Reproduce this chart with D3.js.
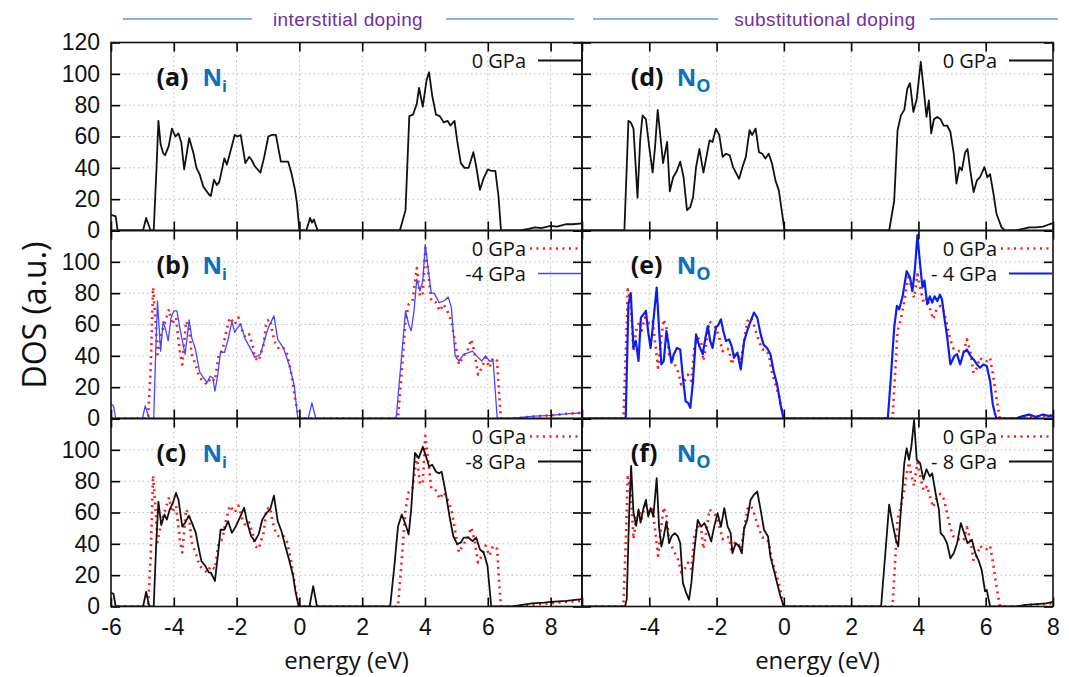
<!DOCTYPE html>
<html lang="en">
<head>
    <meta charset="UTF-8">
    <title>DOS under pressure</title>
    <script src="https://d3js.org/d3.v7.min.js"></script>
    <style>
        body { margin: 0; background: #fff; }
        svg { display: block; font-family: "Open Sans", "DejaVu Sans", sans-serif; }
        .tick line { stroke: #000; stroke-width: 1.6px; }
        .tick text { font-size: 23px; fill: #111; }
        .grid { stroke: #bdbdbd; stroke-width: 1; stroke-dasharray: 1.5,3; }
        .frame { fill: none; stroke: #111; stroke-width: 1.6px; }
        .legend text { font-size: 20px; fill: #111; }
    </style>
</head>
<body>
<script>
// energy (eV), DOS (a.u.) pairs
var dosIntA = [[-6,10],[-5.85,9],[-5.79,0],[-4.98,0],[-4.88,8],[-4.74,0],[-4.64,0],[-4.55,40],[-4.49,70],[-4.42,55],[-4.34,49.5],[-4.28,48],[-4.16,54],[-4.06,65],[-3.95,60],[-3.85,62],[-3.76,56],[-3.67,39],[-3.51,59],[-3.37,49],[-3.28,40],[-3.18,36],[-3.06,28],[-2.88,23],[-2.82,22],[-2.72,32.5],[-2.63,29],[-2.55,31],[-2.39,46],[-2.31,42],[-2.21,49.5],[-2.06,61],[-1.97,60],[-1.87,61],[-1.72,43],[-1.6,47],[-1.52,45],[-1.42,41],[-1.24,37],[-1.12,47],[-0.99,60],[-0.87,61],[-0.75,61],[-0.59,44],[-0.45,44],[-0.36,44],[-0.26,37],[-0.14,26],[-0.08,18],[0,0],[0.22,0],[0.34,8],[0.4,5],[0.46,7],[0.58,0],[3.2,0],[3.38,13],[3.5,73],[3.62,74],[3.74,81],[3.81,91],[3.93,79],[4.05,96],[4.13,101],[4.23,86],[4.35,74],[4.47,73],[4.6,69],[4.72,70],[4.81,67],[4.94,70],[5.02,58],[5.14,43],[5.26,40],[5.39,40],[5.54,50],[5.63,41],[5.75,26],[5.87,33.5],[6.0,39],[6.12,38],[6.24,38],[6.34,22],[6.42,0],[7.03,0],[7.3,1],[7.5,2],[7.7,1.5],[8.0,3],[8.2,2.5],[8.5,4],[8.7,4],[9,4.5]];

var dosInt0 = [[-6,0],[-4.82,0],[-4.74,30],[-4.66,83.6],[-4.58,62],[-4.52,41],[-4.4,53.7],[-4.27,62],[-4.15,69.7],[-4.06,60],[-3.93,64.4],[-3.81,43],[-3.73,34.5],[-3.61,62],[-3.52,58],[-3.43,41],[-3.31,34.5],[-3.18,26],[-3.06,23.9],[-2.94,21.7],[-2.82,26],[-2.69,23.9],[-2.57,41],[-2.45,43],[-2.33,56],[-2.21,64.4],[-2.06,60],[-1.94,64.4],[-1.82,56],[-1.72,51.6],[-1.6,53.7],[-1.48,46],[-1.42,38.8],[-1.3,36.7],[-1.14,47],[-1.05,62],[-0.93,63.3],[-0.85,53.7],[-0.75,47],[-0.63,44],[-0.51,45],[-0.39,41],[-0.27,30],[-0.14,13],[-0.02,0],[3.14,0],[3.26,30],[3.38,62],[3.48,73],[3.6,75],[3.74,96],[3.84,78],[3.93,79],[4.01,109],[4.11,92],[4.2,75],[4.35,74],[4.47,68.7],[4.59,73],[4.71,68.7],[4.84,62],[4.96,48.4],[5.08,34.5],[5.23,40],[5.35,43],[5.47,50.5],[5.57,43],[5.69,28],[5.81,32.4],[5.93,38.8],[6.05,32.4],[6.17,38.8],[6.3,36.7],[6.36,15],[6.42,0],[6.9,0],[7.3,1],[7.6,1.5],[8.0,2],[8.5,3],[9,3.6]];

var dosIntM4 = [[-6,9.4],[-5.92,8],[-5.85,0],[-5.0,0],[-4.91,8],[-4.78,0],[-4.64,0],[-4.58,40],[-4.52,75],[-4.42,43],[-4.34,62],[-4.25,56],[-4.18,49.5],[-4.09,64],[-4.0,68.7],[-3.9,68.7],[-3.79,56],[-3.64,41],[-3.51,63],[-3.43,51.6],[-3.31,44],[-3.18,30],[-3.06,26],[-2.94,23],[-2.84,27],[-2.76,26],[-2.69,17.5],[-2.6,28],[-2.51,43],[-2.39,42],[-2.27,50.5],[-2.15,62],[-2.06,55],[-1.97,58],[-1.87,60],[-1.72,50.5],[-1.54,44],[-1.42,39],[-1.24,41],[-1.12,49.5],[-0.99,58],[-0.81,65.5],[-0.69,50.5],[-0.51,45],[-0.33,34.5],[-0.17,21.7],[-0.05,0],[0.28,0],[0.4,10],[0.52,0],[3.08,0],[3.26,41],[3.38,68.7],[3.48,60],[3.56,56],[3.65,68.7],[3.74,89],[3.84,81.4],[3.93,88],[4.01,111],[4.11,94],[4.2,80],[4.29,80],[4.45,74],[4.6,75],[4.74,77.6],[4.84,70.8],[4.96,40],[5.08,36.7],[5.23,41],[5.39,42],[5.51,43],[5.69,39],[5.81,36.7],[5.93,40],[6.05,36.7],[6.17,36.7],[6.3,0],[6.78,0],[7.2,1],[7.5,1.5],[8.0,2],[8.5,3],[9,3.6]];

var dosIntM8 = [[-6,9],[-5.92,8],[-5.85,0],[-4.98,0],[-4.88,9.3],[-4.78,0],[-4.64,0],[-4.56,40],[-4.49,67],[-4.4,52],[-4.3,58.7],[-4.22,55.5],[-4.13,62],[-4.03,66],[-3.93,72.5],[-3.85,68],[-3.73,51],[-3.64,53.4],[-3.52,58],[-3.42,53.4],[-3.3,47],[-3.21,37.5],[-3.12,29],[-3.0,26],[-2.88,21.6],[-2.82,21.6],[-2.69,16.3],[-2.6,32],[-2.51,49],[-2.39,49],[-2.27,54.4],[-2.15,47],[-2.03,51],[-1.9,56.6],[-1.76,63],[-1.66,53.4],[-1.54,45],[-1.42,41.7],[-1.3,46],[-1.18,55.5],[-1.05,59.7],[-0.93,62],[-0.81,70.8],[-0.69,54.4],[-0.57,48],[-0.45,38.6],[-0.33,30],[-0.2,19.5],[-0.12,9],[-0.02,0],[0.32,0],[0.44,13],[0.56,0],[2.89,0],[3.02,25],[3.14,51],[3.26,58.7],[3.38,52.3],[3.48,46],[3.56,62],[3.68,98],[3.8,94.7],[3.93,102],[4.05,94.7],[4.13,89.4],[4.23,90.5],[4.35,86],[4.45,85],[4.53,86],[4.66,72.5],[4.78,57.6],[4.9,45],[5.02,40],[5.14,40.7],[5.23,44],[5.39,44],[5.51,41.7],[5.63,44],[5.75,36.4],[5.87,34.3],[5.99,26],[6.11,0],[6.78,0],[7.1,1],[7.4,2],[7.8,2.5],[8.0,3],[8.5,3.6],[9,4.7]];

var dosSubD = [[-6,0],[-4.74,0],[-4.62,70],[-4.55,69],[-4.47,65],[-4.35,21],[-4.27,58],[-4.2,73.5],[-4.1,71],[-4.0,53],[-3.9,37],[-3.83,53],[-3.75,77],[-3.66,58],[-3.59,43],[-3.47,56.5],[-3.39,25],[-3.29,34],[-3.18,38],[-3.08,44],[-2.98,34],[-2.88,13],[-2.78,15],[-2.7,21],[-2.61,40.5],[-2.51,52],[-2.39,37],[-2.31,46],[-2.21,57.5],[-2.12,56.5],[-2.02,65],[-1.92,61],[-1.82,47],[-1.72,49],[-1.61,48],[-1.51,40.5],[-1.33,33],[-1.23,40.5],[-1.13,47],[-1.02,64],[-0.94,61],[-0.84,65],[-0.74,50],[-0.64,49],[-0.55,46],[-0.45,49],[-0.35,42.6],[-0.25,32],[-0.15,25.6],[-0.05,10.7],[0.02,0],[3.13,0],[3.28,19],[3.38,64],[3.48,73.5],[3.58,77],[3.67,90.6],[3.75,94],[3.85,75.7],[3.95,84],[4.07,107.7],[4.16,89.5],[4.24,72.5],[4.31,83],[4.38,62],[4.46,71],[4.56,72.5],[4.66,71],[4.75,67],[4.85,67],[4.95,63],[5.05,49],[5.13,30],[5.22,40.5],[5.29,38.4],[5.39,50],[5.46,52],[5.54,38.4],[5.64,24.5],[5.74,32],[5.83,34],[5.96,40.5],[6.05,34],[6.13,36],[6.23,23.5],[6.32,10.7],[6.47,2],[6.57,0],[6.9,0],[7.1,1],[7.3,2],[7.5,2],[7.7,2.5],[7.9,4],[8,4.5]];

var dosSub0 = [[-6,0],[-4.77,0],[-4.7,41],[-4.64,82.5],[-4.57,77],[-4.52,62],[-4.47,43],[-4.39,56],[-4.29,62],[-4.23,56],[-4.13,64.4],[-4.06,62],[-3.98,60],[-3.9,62],[-3.83,49.5],[-3.74,32.4],[-3.64,51.6],[-3.57,63.3],[-3.49,58],[-3.41,41],[-3.29,36.7],[-3.15,30],[-3.05,21.7],[-2.95,24],[-2.85,28],[-2.75,24],[-2.66,45],[-2.56,51.6],[-2.46,49.5],[-2.39,36.7],[-2.31,47],[-2.21,62],[-2.12,60],[-2.02,58],[-1.92,51.6],[-1.82,43],[-1.72,45],[-1.63,44],[-1.55,34.5],[-1.45,41],[-1.38,41],[-1.28,36.7],[-1.18,49.5],[-1.09,62],[-0.99,64.4],[-0.92,62],[-0.84,56],[-0.74,49.5],[-0.64,44],[-0.55,44],[-0.45,41],[-0.35,29],[-0.25,21.7],[-0.15,15],[-0.05,4.7],[0,0],[3.23,0],[3.3,26],[3.38,56],[3.46,62],[3.56,71.9],[3.65,84.6],[3.72,92],[3.79,83.6],[3.87,77],[3.97,92],[4.07,81.4],[4.16,74],[4.26,77],[4.36,68.7],[4.44,63.3],[4.56,70.8],[4.66,71.9],[4.75,68.7],[4.83,62],[4.93,51.6],[5.03,45],[5.13,43],[5.24,43],[5.34,42],[5.44,50.5],[5.54,43],[5.64,29],[5.74,32.4],[5.83,38.8],[5.93,36.7],[6.03,36.7],[6.13,38.8],[6.23,26],[6.32,13],[6.42,0],[7.0,0],[7.3,1],[7.6,1.5],[8,2]];

var dosSubM4 = [[-6,0],[-4.74,0],[-4.7,1],[-4.62,73],[-4.55,80],[-4.47,45],[-4.4,49.5],[-4.32,36.7],[-4.25,64.4],[-4.17,66.5],[-4.1,68.7],[-4.03,54.8],[-3.96,45],[-3.88,62],[-3.78,83.6],[-3.7,53.7],[-3.64,34.5],[-3.57,36.7],[-3.49,55.8],[-3.41,45],[-3.34,35.6],[-3.27,41],[-3.18,45],[-3.08,44],[-3.0,26],[-2.92,11],[-2.85,10],[-2.78,6.8],[-2.7,23.9],[-2.61,53.7],[-2.51,46],[-2.41,41],[-2.33,51.6],[-2.26,59],[-2.19,49.5],[-2.12,45],[-2.02,58],[-1.94,60],[-1.87,63.3],[-1.8,55.9],[-1.72,49.5],[-1.63,50.5],[-1.55,46],[-1.48,38.8],[-1.38,42],[-1.28,31.3],[-1.18,49.5],[-1.09,55.9],[-0.99,62],[-0.89,67.6],[-0.79,64.4],[-0.69,53.7],[-0.6,47],[-0.5,45],[-0.4,41],[-0.3,30],[-0.2,21.7],[-0.1,9],[-0.01,0],[3.09,0],[3.18,26],[3.28,58],[3.36,71.9],[3.43,69.7],[3.53,78],[3.65,94],[3.75,90],[3.82,81.4],[3.89,94],[3.97,117],[4.05,98.5],[4.12,83.6],[4.18,88],[4.26,73],[4.34,78],[4.41,74],[4.48,78],[4.56,75],[4.64,79],[4.7,76],[4.77,64.4],[4.85,52.7],[4.95,34.5],[5.07,40],[5.15,41],[5.24,34.5],[5.34,42],[5.44,44],[5.54,40],[5.64,37.7],[5.74,34.5],[5.83,32.4],[5.93,34.5],[6.03,33.5],[6.13,24],[6.21,9],[6.27,3.6],[6.32,0],[6.9,0],[7.1,1.5],[7.3,2.5],[7.5,1],[7.7,2.5],[7.9,1.5],[8,2]];

var dosSubM8 = [[-6,0],[-4.72,0],[-4.67,4.7],[-4.6,57.9],[-4.54,89.8],[-4.47,60],[-4.39,51.5],[-4.32,62],[-4.26,53.6],[-4.18,62],[-4.1,68],[-4.03,57.4],[-3.96,62.8],[-3.88,57.4],[-3.78,82],[-3.71,51],[-3.64,38.3],[-3.57,44.7],[-3.49,54.3],[-3.41,40.4],[-3.34,44.7],[-3.24,46.8],[-3.15,44.7],[-3.08,40.4],[-3.0,14.9],[-2.9,8.5],[-2.82,4.3],[-2.75,14.9],[-2.66,36],[-2.56,55.3],[-2.46,51],[-2.36,53.2],[-2.26,48],[-2.16,41.5],[-2.07,51],[-1.97,59.6],[-1.87,51],[-1.77,62.8],[-1.67,51],[-1.58,46.8],[-1.53,34],[-1.43,40.4],[-1.33,38.3],[-1.25,34],[-1.18,50],[-1.09,55.3],[-0.99,68],[-0.89,71.3],[-0.79,73.4],[-0.69,61.7],[-0.59,49],[-0.47,44.7],[-0.4,32],[-0.3,23.4],[-0.2,14.9],[-0.1,6.4],[0,0],[2.89,0],[3.04,40.4],[3.13,65],[3.23,53.2],[3.33,42.6],[3.4,38.3],[3.48,61.7],[3.58,91.5],[3.65,101],[3.72,93.6],[3.79,102],[3.87,119],[3.95,93.6],[4.05,91.5],[4.15,81],[4.24,87.6],[4.34,83],[4.41,85],[4.51,72.3],[4.61,61.7],[4.66,46.8],[4.75,44.7],[4.85,40.4],[4.95,30.8],[5.05,34],[5.15,40.4],[5.26,53.2],[5.36,46.8],[5.46,40.4],[5.59,42.6],[5.69,34],[5.78,29.8],[5.88,23.4],[5.98,9.6],[6.03,10.6],[6.13,0],[6.9,0],[7.2,1],[7.5,1.5],[7.8,2],[8,3]];

var xTickValues = [-6, -4, -2, 0, 2, 4, 6, 8];
var yTickValues = [0, 20, 40, 60, 80, 100, 120];
var panelLetters = ["a", "b", "c", "d", "e", "f"];
var groupTitles = ["interstitial doping", "substitutional doping"];

var W = 1069, H = 677;
var cols = [
    {x0: 111, x1: 582, domain: [-6, 9], sub: "i"},
    {x0: 582, x1: 1053, domain: [-6, 8], sub: "O"}
];
var rowTop = [42.5, 230.5, 418.5], rowH = 188;

var styles = {
    black: {stroke: "#111", width: 1.8, dash: null},
    red:   {stroke: "#ff1a1a", width: 2.6, dash: "2,4.5"},
    blueThin: {stroke: "#4646ff", width: 1.3, dash: null},
    blue:  {stroke: "#0a1ef0", width: 2.2, dash: null}
};

// panels: column, row, series list and legend labels
var panels = [
    {c: 0, r: 0, series: [{d: dosIntA, s: "black", name: "0 GPa"}]},
    {c: 0, r: 1, series: [{d: dosInt0, s: "red", name: "0 GPa"}, {d: dosIntM4, s: "blueThin", name: "-4 GPa"}]},
    {c: 0, r: 2, series: [{d: dosInt0, s: "red", name: "0 GPa"}, {d: dosIntM8, s: "black", name: "-8 GPa"}]},
    {c: 1, r: 0, series: [{d: dosSubD, s: "black", name: "0 GPa"}]},
    {c: 1, r: 1, series: [{d: dosSub0, s: "red", name: "0 GPa"}, {d: dosSubM4, s: "blue", name: "- 4 GPa"}]},
    {c: 1, r: 2, series: [{d: dosSub0, s: "red", name: "0 GPa"}, {d: dosSubM8, s: "black", name: "- 8 GPa"}]}
];

var svg = d3.select("body").append("svg")
    .attr("width", W)
    .attr("height", H);

svg.append("rect").attr("width", W).attr("height", H).attr("fill", "#fff");

panels.forEach(function(p, i) {
    var col = cols[p.c];
    var top = rowTop[p.r], bottom = top + rowH;
    var x = d3.scaleLinear().domain(col.domain).range([col.x0, col.x1]);
    var y = d3.scaleLinear().domain([0, 120]).range([bottom, top]);
    var g = svg.append("g");

    // dotted grid
    g.selectAll(".gx").data(xTickValues.filter(function(v) { return v > col.domain[0] && v < col.domain[1]; }))
      .enter().append("line").attr("class", "grid")
        .attr("x1", function(d) { return x(d); }).attr("x2", function(d) { return x(d); })
        .attr("y1", top).attr("y2", bottom);
    g.selectAll(".gy").data([20, 40, 60, 80, 100])
      .enter().append("line").attr("class", "grid")
        .attr("x1", col.x0).attr("x2", col.x1)
        .attr("y1", function(d) { return y(d); }).attr("y2", function(d) { return y(d); });

    // curves
    var clipId = "clip" + i;
    svg.append("clipPath").attr("id", clipId).append("rect")
        .attr("x", col.x0).attr("y", top).attr("width", col.x1 - col.x0).attr("height", rowH);
    var line = d3.line().x(function(d) { return x(d[0]); }).y(function(d) { return y(d[1]); });
    p.series.forEach(function(s) {
        var st = styles[s.s];
        g.append("path").datum(s.d)
            .attr("clip-path", "url(#" + clipId + ")")
            .attr("d", line)
            .attr("fill", "none")
            .attr("stroke", st.stroke)
            .attr("stroke-width", st.width)
            .attr("stroke-linejoin", "round")
            .attr("stroke-dasharray", st.dash);
    });

    // inward ticks on all four sides
    var isBottomRow = p.r === 2;
    var bottomAxis = d3.axisBottom(x).tickValues(xTickValues).tickSize(-9).tickSizeOuter(0).tickPadding(12)
        .tickFormat(function(d) { return (isBottomRow && !(p.c === 1 && d === -6)) ? d : ""; });
    g.append("g").attr("transform", "translate(0," + bottom + ")").call(bottomAxis);
    g.append("g").attr("transform", "translate(0," + top + ")")
        .call(d3.axisTop(x).tickValues(xTickValues).tickSize(-9).tickSizeOuter(0).tickFormat(""));
    var yLabels = p.c === 0;
    g.append("g").attr("transform", "translate(" + col.x0 + ",0)")
        .call(d3.axisLeft(y).tickValues(yTickValues).tickSize(-9).tickSizeOuter(0).tickPadding(11)
            .tickFormat(function(d) { return (yLabels && (p.r === 0 || d < 120)) ? d : ""; }));
    g.append("g").attr("transform", "translate(" + col.x1 + ",0)")
        .call(d3.axisRight(y).tickValues(yTickValues).tickSize(-9).tickSizeOuter(0).tickFormat(""));
    g.selectAll(".domain").remove();

    g.append("rect").attr("class", "frame")
        .attr("x", col.x0).attr("y", top).attr("width", col.x1 - col.x0).attr("height", rowH);

    // legend
    var lg = g.append("g").attr("class", "legend");
    p.series.forEach(function(s, k) {
        var st = styles[s.s];
        var ly = top + 18 + k * 25;
        lg.append("text").attr("x", col.x1 - 56).attr("y", ly + 7)
            .attr("text-anchor", "end").text(s.name);
        lg.append("line")
            .attr("x1", col.x1 - (st.dash ? 52 : 44)).attr("x2", col.x1 - 1)
            .attr("y1", ly).attr("y2", ly)
            .attr("stroke", st.stroke).attr("stroke-width", st.width)
            .attr("stroke-dasharray", st.dash);
    });

    // panel label (a) N_i etc.
    var lx = x(-4.55), lyb = top + 43;
    g.append("text").attr("x", lx).attr("y", lyb)
        .style("font-size", "25px").style("font-weight", "bold").attr("fill", "#111")
        .text("(" + panelLetters[i] + ")");
    var nt = g.append("text").attr("x", lx + 46).attr("y", lyb)
        .style("font-weight", "bold").attr("fill", "#0a70c0");
    nt.append("tspan").style("font-size", "24px").text("N");
    nt.append("tspan").style("font-size", col.sub === "i" ? "16px" : "18px").attr("dy", 6).text(col.sub);
});

// axis titles
cols.forEach(function(col, k) {
    svg.append("text")
        .attr("x", (col.x0 + col.x1) / 2).attr("y", 669)
        .attr("text-anchor", "middle")
        .style("font-size", "24px").attr("fill", "#111")
        .text("energy (eV)");
});

svg.append("text")
    .attr("transform", "translate(46,315) rotate(-90)")
    .attr("text-anchor", "middle")
    .style("font-size", "32px").attr("fill", "#111")
    .text("DOS (a.u.)");

// group headers with blue rules
var headers = [
    {cx: 348, l: [123, 252], r: [446, 574]},
    {cx: 825, l: [593, 718], r: [930, 1058]}
];
headers.forEach(function(h, k) {
    svg.append("text")
        .attr("x", h.cx).attr("y", 26)
        .attr("text-anchor", "middle")
        .style("font-family", "'Liberation Sans', Arial, sans-serif")
        .style("font-size", "19px").style("letter-spacing", "0.4px")
        .attr("fill", "#7030a0")
        .text(groupTitles[k]);
    [h.l, h.r].forEach(function(seg) {
        svg.append("line")
            .attr("x1", seg[0]).attr("x2", seg[1]).attr("y1", 19).attr("y2", 19)
            .attr("stroke", "#5b9bd5").attr("stroke-width", 1.6);
    });
});
</script>
</body>
</html>
